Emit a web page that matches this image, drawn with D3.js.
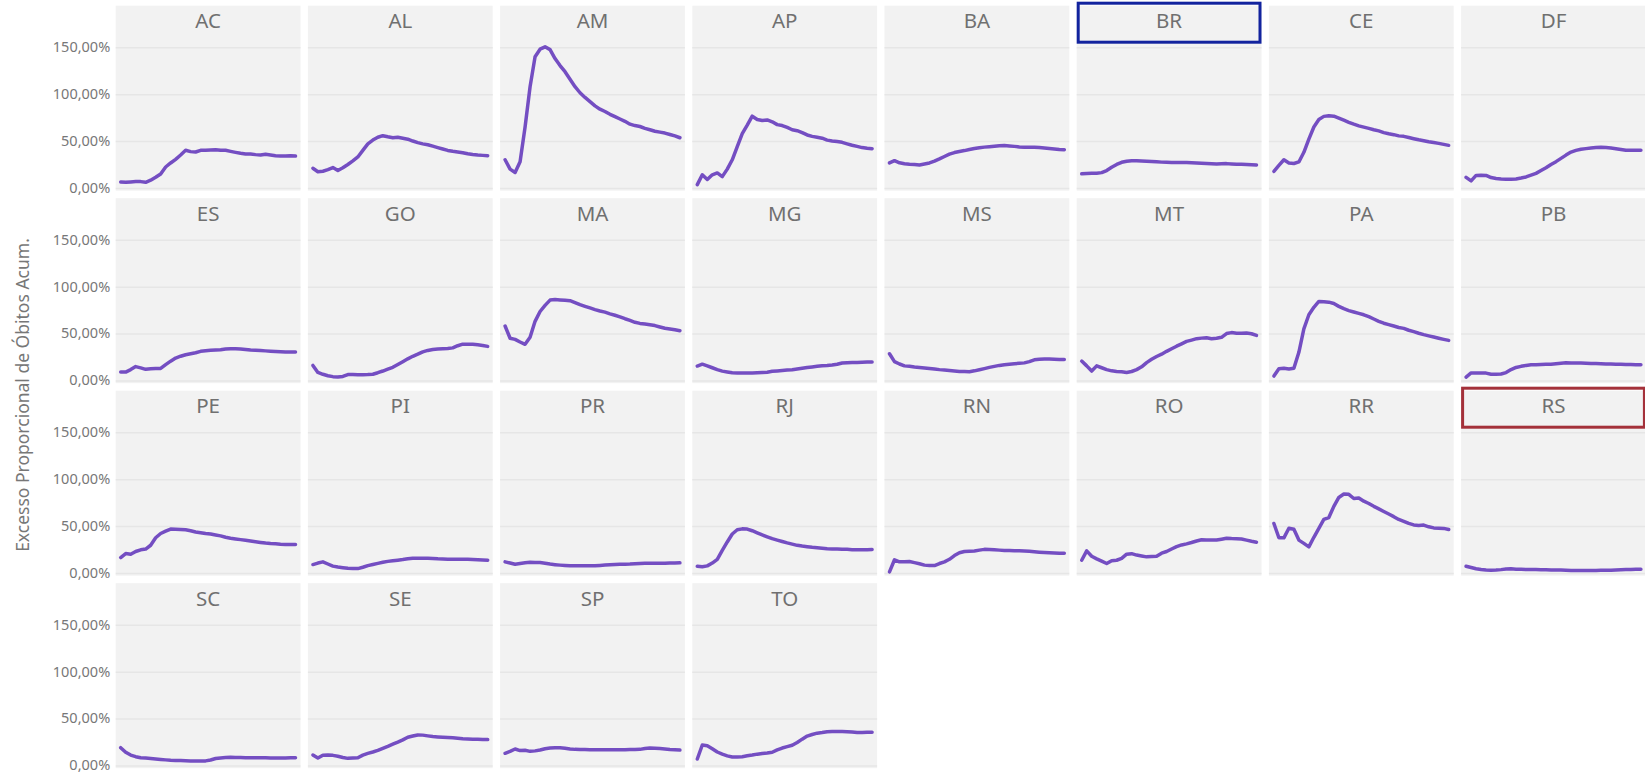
<!DOCTYPE html>
<html>
<head>
<meta charset="utf-8">
<script src="https://cdn.jsdelivr.net/npm/d3@7"></script>
<style>
  html, body { margin: 0; padding: 0; background: #ffffff; }
  svg { display: block; }
  text { font-family: "Segoe UI", "Noto Sans", "Open Sans", sans-serif; }
</style>
</head>
<body>
<svg id="chart" width="1645" height="773"></svg>
<script>
// ---------------- DATA ----------------
const states = ["AC","AL","AM","AP","BA","BR","CE","DF",
                "ES","GO","MA","MG","MS","MT","PA","PB",
                "PE","PI","PR","RJ","RN","RO","RR","RS",
                "SC","SE","SP","TO"];
const yTicks = [0, 50, 100, 150];
const yTitle = "Excesso Proporcional de Óbitos Acum.";
const highlightBlue = ["BR"];
const highlightRed = ["RS"];

// Excesso proporcional de óbitos acumulado (%), weekly points
const AC = [6.4,6.0,6.4,6.7,6.7,6.0,8.2,11.3,14.9,22.3,26.6,30.5,35.1,40.1,38.7,38.3,40.1,40.1,40.4,40.8,40.1,40.1,39.0,37.9,36.9,36.2,36.2,35.5,35.1,35.8,35.1,34.4,34.0,34.0,34.4,34.0];
const AL = [20.9,17.2,17.8,19.5,21.7,18.6,21.5,25,28.8,33,40,47,51,54,55.7,54.5,53.5,54,53,52,50,48.3,47,46,44.5,43,41.5,40,39,38.2,37.5,36.4,35.6,35,34.7,34.4];
const AM = [30,20,16.5,28,65,108,140,148,150.5,147.5,138,130.5,124,116,108,101.5,96.5,92,87.5,84,81.5,78.5,76,73.5,71,68,66.5,65.5,63.5,62,60.5,59.5,58.5,57,55.5,53.5];
const AP = [3.5,14,9,14,16,12,20,30,44,58,67,76.5,73,72,72.5,70.5,67.5,66.5,64.5,62,61,59,56.5,55,54,53,51,50,49.4,48.6,47,45.5,44.3,43,42.2,41.8];
const BA = [26.6,29,26.8,25.8,25.3,25,24.5,25.5,26.6,28.5,30.9,33.5,36,37.7,38.8,39.8,41,42,42.8,43.5,44,44.5,45,45.2,44.8,44.3,43.7,43.3,43.3,43.3,43,42.5,42,41.5,41,40.8];
const BR = [15,15.3,15.5,15.6,16.3,18.5,22,25,27.3,28.5,29,29,28.7,28.4,28.1,27.8,27.5,27.3,27.2,27.1,27,27,26.8,26.5,26.2,26,25.8,25.5,25.7,25.9,25.6,25.3,25.2,25,24.7,24.5];
const CE = [17.7,24,30,26.6,26,27.7,38,52,65,73,76.3,77,76.5,74.5,72.3,70,68,66.2,64.8,63.5,62,60.8,59,57.7,56.8,55.5,55,53.8,52.5,51.3,50.3,49.2,48.4,47.5,46.4,45.4];
const DF = [11.3,7.5,13.3,13.5,13.3,11,10,9.4,9.1,9.2,9.6,10.5,11.7,13.6,15.5,18.5,21.5,25,28,31.5,35,38.2,40,41.2,41.9,42.5,43,43.3,43,42.5,41.8,41,40.2,40.1,40.1,40.1];
const ES = [8.9,8.9,11.5,14.7,13.4,11.8,12.5,12.8,12.8,16.8,20.5,23.8,25.8,27.4,28.5,29.5,31,31.7,32.2,32.5,32.7,33.5,33.8,33.8,33.6,33,32.4,32.1,31.8,31.5,31.2,30.8,30.5,30.2,30.2,30.2];
const GO = [16,8.5,6.5,5,4,3.6,4.2,6.2,6.3,6.1,6,6.2,6.6,8.2,10,12,14,17,20,23,25.7,28,30.5,32,33,33.5,33.8,34,34.7,37,38.7,38.7,38.6,38,37.3,36.3];
const MA = [58,45,43.8,41,38.5,46,63,73.5,80,85.7,86.2,85.8,85.5,85,83,80.8,79,77.3,75.5,74,72.8,71,69.5,67.8,65.8,64,62,60.8,60.2,59.4,58.5,57,55.6,54.8,54,53];
const MG = [15.3,17.3,15.5,13.5,11.5,9.9,9,8.2,8,7.8,7.8,7.9,8.1,8.4,8.8,9.7,10.1,10.5,11,11.4,12.2,13,13.8,14.4,15,15.6,15.9,16.4,17.2,18.5,18.9,19.1,19.2,19.4,19.5,19.6];
const MS = [28.4,20,17.5,15.5,15,14.3,13.8,13.3,12.8,12.2,11.5,11,10.5,10,9.6,9.4,9.3,10.2,11.4,12.6,13.9,15,16,16.8,17.3,17.8,18.2,18.7,20,22,22.6,22.8,22.8,22.6,22.4,22.4];
const MT = [20.6,15.5,10,15.5,13.5,11.5,10.2,9.6,9.2,8.5,9.5,11.5,14.5,19,22.5,25.5,28,31,33.8,36.5,39,41.6,43,44.5,45.1,45.5,44.5,45,46,50,51,50.3,50.2,50.5,49.8,48];
const PA = [4.6,12.5,13,12.2,13,30,55,70,78,84.2,84,83.5,82,79,76.5,74.5,73,71.5,70,68,65.5,63,61,59.5,58,56.5,55.5,53.5,52,50.3,48.8,47.5,46.3,45,43.8,42.7];
const PB = [3.6,8,8,7.8,7.8,6.6,6.5,6.8,8.3,11.5,13.8,15,16,16.6,16.8,17,17.1,17.3,17.8,18.3,18.8,18.6,18.5,18.5,18.3,18.1,17.9,17.8,17.6,17.4,17.2,17.1,17,16.9,16.8,16.7];
const PE = [16.4,20.6,19.8,22.8,24.6,25.4,29.5,37.5,42,44.5,46.8,46.6,46.3,46,45,43.7,42.8,42,41.5,40.5,39.5,38,37,36.2,35.5,34.8,34,33.3,32.5,31.8,31.3,31,30.6,30.4,30.3,30.3];
const PI = [8.9,10.5,11.8,9.5,7.2,6.2,5.5,4.9,4.6,4.6,6,7.8,9,10.2,11.3,12.3,13,13.6,14.2,15,15.6,15.7,15.7,15.6,15.4,15,14.8,14.6,14.6,14.6,14.6,14.5,14.3,14,13.8,13.5];
const PR = [11.8,10.5,9.3,10,10.8,11.3,11.2,11,10.3,9.4,8.8,8.3,7.9,7.6,7.5,7.5,7.5,7.5,7.7,8,8.4,8.7,8.9,9.1,9.3,9.4,9.7,10.1,10.4,10.4,10.3,10.3,10.4,10.5,10.6,10.7];
const RJ = [7.1,6.5,7.5,10.5,14.5,24,33,41.5,46,47,46.8,45,42.8,40.5,38.5,36.5,35,33.5,32,30.7,29.4,28.6,28,27.3,26.8,26.3,25.8,25.6,25.5,25.3,25.1,24.8,24.6,24.7,24.8,24.9];
const RN = [1.1,14,11.8,12,12.1,11,9.8,8.3,7.8,7.8,10,11.8,14.5,18.5,21.5,22.8,23.1,23.4,24.3,25.1,25,24.7,24.3,24,23.8,23.6,23.5,23.3,23,22.5,22.1,21.8,21.5,21.2,21,21];
const RO = [13.5,23.5,17.8,15,12.5,10,13,13.5,15.5,20,20.5,19,18,17.1,17.4,17.8,21,22.8,25.5,28,29.8,31,32.4,34,35.3,35.2,35,35,36,37,36.6,36.4,36.2,35,33.8,32.8];
const RR = [52.7,37.5,37.4,47.7,46.5,35,31.5,27.8,38,47.5,57,59.1,71,80.5,84.1,83.8,79.4,80,76.5,74,71,68.3,65.5,62.8,60,57,55,52.8,51.2,50.6,51,49.2,48,47.7,47.5,46.3];
const RS = [7.1,5.8,4.5,3.7,3.1,2.9,3.0,3.5,4.2,4.3,4.0,3.8,3.7,3.6,3.5,3.4,3.3,3.2,3.1,3.0,2.8,2.6,2.5,2.5,2.5,2.5,2.6,2.7,2.8,2.9,3.1,3.3,3.5,3.6,3.8,3.9];
const SC = [18.9,14,11,9.3,8.2,7.8,7.4,6.9,6.4,5.9,5.4,5.2,5.1,5,4.8,4.6,4.6,4.8,5.8,7.3,8,8.4,8.6,8.5,8.3,8.2,8.2,8.2,8.2,8.1,8,7.9,7.9,8,8.1,8.2];
const SE = [11.1,7.8,10.8,11,10.7,9.8,8.5,7.5,7.8,8.2,11,12.8,14.3,16,18.2,20.3,22.6,24.8,27.2,30,31.3,32.5,32.3,31.5,30.8,30.4,30.1,29.8,29.4,29,28.5,28.2,28,27.8,27.6,27.5];
const SP = [12.9,15,17.5,15.8,16.1,15,15.5,16.4,17.8,18.6,18.8,18.9,18.4,17.6,17.1,17,16.9,16.8,16.8,16.8,16.8,16.8,16.8,16.8,16.8,16.9,17,17.1,18,18.6,18.2,17.9,17.5,17,16.8,16.4];
const TO = [6.8,21.8,21,17.8,14.3,12,10.2,9,9,9.3,10.2,11,12,12.8,13.3,14,16.5,18.5,20,21.5,24.5,28,31.3,33,34.4,35,35.8,36.1,36.1,36.1,36,35.6,35.2,35.1,35.3,35.4];

const seriesByState = {AC,AL,AM,AP,BA,BR,CE,DF,ES,GO,MA,MG,MS,MT,PA,PB,PE,PI,PR,RJ,RN,RO,RR,RS,SC,SE,SP,TO};

// ---------------- LAYOUT ----------------
const svg = d3.select("#chart");
const nCols = 8;
const gridLeft = 115.7, colPitch = 192.2, panelW = 184.8;
const gridTop = 5.7, rowPitch = 192.5, panelH = 185;
const y150 = 41.6, y0off = 182.2;     // inside a panel
const xInset = 5;

const locale = d3.formatLocale({decimal: ",", thousands: ".", grouping: [3], currency: ["R$", ""]});
const fmtPct = locale.format(".2%");

const lineColor = "#744EC2";
const panelBg = "#f2f2f2";
const gridColor = "#e6e6e6";
const textGray = "#777777";

const nRows = Math.ceil(states.length / nCols);

// y axis labels (one per row)
for (let r = 0; r < nRows; r++) {
  const top = gridTop + r * rowPitch;
  const y = d3.scaleLinear().domain([0, 150]).range([top + y0off, top + y150]);
  const ax = svg.append("g")
    .attr("transform", `translate(${gridLeft - 5.5},0)`)
    .call(d3.axisLeft(y).tickValues(yTicks).tickSize(0).tickPadding(0).tickFormat(d => fmtPct(d / 100)));
  ax.select(".domain").remove();
  ax.selectAll("text")
    .attr("dy", "0.3em")
    .attr("fill", textGray)
    .style("font-size", "14.5px")
    .style("font-family", "'Segoe UI','Noto Sans','Open Sans',sans-serif");
}

// panels
states.forEach((st, i) => {
  const c = i % nCols, r = Math.floor(i / nCols);
  const left = gridLeft + c * colPitch;
  const top = gridTop + r * rowPitch;
  const data = seriesByState[st];

  const x = d3.scaleLinear().domain([0, data.length - 1]).range([left + xInset, left + panelW - xInset]);
  const y = d3.scaleLinear().domain([0, 150]).range([top + y0off, top + y150]);

  const g = svg.append("g");
  g.append("rect")
    .attr("x", left).attr("y", top)
    .attr("width", panelW).attr("height", panelH)
    .attr("fill", panelBg);

  // gridlines via axis
  const grid = g.append("g")
    .attr("transform", `translate(${left},0)`)
    .call(d3.axisLeft(y).tickValues(yTicks).tickSize(-panelW).tickFormat(""));
  grid.select(".domain").remove();
  grid.selectAll("line").attr("stroke", gridColor).attr("stroke-width", 1.5);

  // title
  g.append("text")
    .attr("x", left + panelW / 2)
    .attr("y", top + 22.6)
    .attr("text-anchor", "middle")
    .attr("fill", "#707070")
    .style("font-size", "20.5px")
    .text(st);

  // line
  const line = d3.line()
    .x((d, j) => x(j))
    .y(d => y(d))
    .curve(d3.curveLinear);
  g.append("path")
    .datum(data)
    .attr("d", line)
    .attr("fill", "none")
    .attr("stroke", lineColor)
    .attr("stroke-width", 3.5)
    .attr("stroke-linejoin", "round")
    .attr("stroke-linecap", "round");

  // highlight boxes
  let hl = null;
  if (highlightBlue.includes(st)) hl = "#12239E";
  if (highlightRed.includes(st)) hl = "#A4313A";
  if (hl) {
    g.append("rect")
      .attr("x", left + 1.5).attr("y", top - 2.5)
      .attr("width", panelW - 3).attr("height", 39)
      .attr("fill", "none")
      .attr("stroke", hl)
      .attr("stroke-width", 3);
  }
});

// y axis title
svg.append("text")
  .attr("transform", `translate(29,${395}) rotate(-90)`)
  .attr("text-anchor", "middle")
  .attr("fill", textGray)
  .style("font-size", "17.5px")
  .text(yTitle);
</script>
</body>
</html>
